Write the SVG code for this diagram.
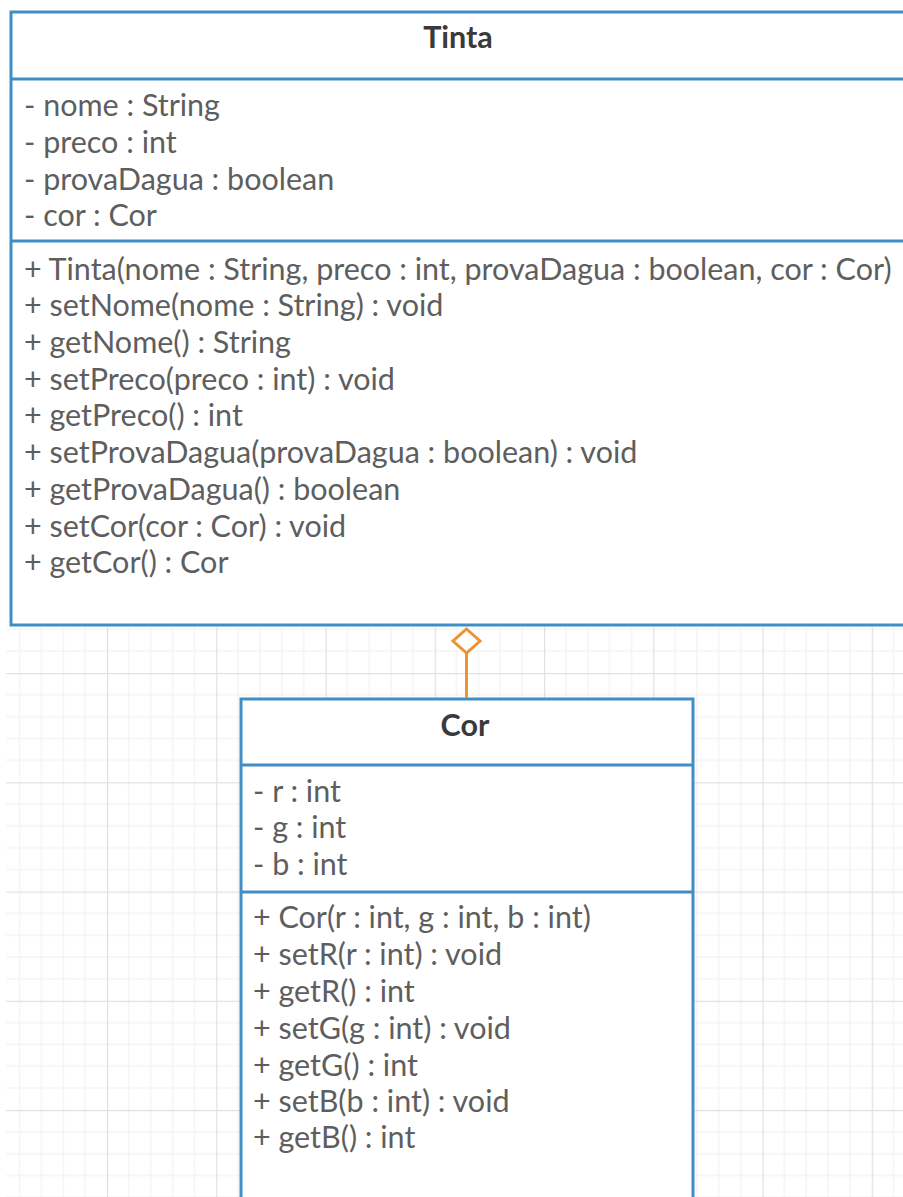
<svg xmlns="http://www.w3.org/2000/svg" width="903" height="1197" viewBox="0 0 903 1197">
  <style>
    .box { fill: #ffffff; stroke: #3f8fc4; stroke-width: 3; }
    .sep { stroke: #3f8fc4; stroke-width: 3; }
    .title { font-family: Lato, "Liberation Sans", sans-serif; font-weight: bold; font-size: 30.5px; fill: #3a3a3a; text-anchor: middle; }
    .member { font-family: Lato, "Liberation Sans", sans-serif; font-size: 30.5px; fill: #5e5e5e; }
    .link { stroke: #ef9230; stroke-width: 3; fill: none; }
    .diamond { stroke: #ef9230; stroke-width: 3; fill: #ffffff; }
  </style>
  <defs>
    <pattern id="grid" patternUnits="userSpaceOnUse" x="-2.25" y="17.5" width="109.25" height="109.25">
      <g fill="#efefef">
        <rect x="21.35" y="0" width="1" height="109.25"/>
        <rect x="43.2" y="0" width="1" height="109.25"/>
        <rect x="65.05" y="0" width="1" height="109.25"/>
        <rect x="86.9" y="0" width="1" height="109.25"/>
        <rect x="0" y="21.35" width="109.25" height="1"/>
        <rect x="0" y="43.2" width="109.25" height="1"/>
        <rect x="0" y="65.05" width="109.25" height="1"/>
        <rect x="0" y="86.9" width="109.25" height="1"/>
      </g>
      <g fill="#e0e0e0">
        <rect x="0" y="0" width="1.2" height="109.25"/>
        <rect x="0" y="0" width="109.25" height="1.2"/>
      </g>
    </pattern>
  </defs>

  <!-- canvas -->
  <rect x="0" y="0" width="903" height="1197" fill="#ffffff"/>
  <rect x="6" y="627" width="897" height="570" fill="url(#grid)"/>

  <!-- class Tinta -->
  <g id="tinta">
    <rect class="box" x="11" y="12" width="900" height="613"/>
    <line class="sep" x1="11" y1="79" x2="911" y2="79"/>
    <line class="sep" x1="11" y1="241" x2="911" y2="241"/>
    <text class="title" x="458" y="48">Tinta</text>
    <text class="member" x="24" y="116">- nome : String</text>
    <text class="member" x="24" y="153">- preco : int</text>
    <text class="member" x="24" y="190">- provaDagua : boolean</text>
    <text class="member" x="24" y="226">- cor : Cor</text>
    <text class="member" x="24" y="280">+ Tinta(nome : String, preco : int, provaDagua : boolean, cor : Cor)</text>
    <text class="member" x="24" y="316">+ setNome(nome : String) : void</text>
    <text class="member" x="24" y="353">+ getNome() : String</text>
    <text class="member" x="24" y="390">+ setPreco(preco : int) : void</text>
    <text class="member" x="24" y="426">+ getPreco() : int</text>
    <text class="member" x="24" y="463">+ setProvaDagua(provaDagua : boolean) : void</text>
    <text class="member" x="24" y="500">+ getProvaDagua() : boolean</text>
    <text class="member" x="24" y="537">+ setCor(cor : Cor) : void</text>
    <text class="member" x="24" y="573">+ getCor() : Cor</text>
  </g>

  <!-- class Cor -->
  <g id="cor">
    <rect class="box" x="241" y="699" width="452" height="520"/>
    <line class="sep" x1="241" y1="765" x2="693" y2="765"/>
    <line class="sep" x1="241" y1="892" x2="693" y2="892"/>
    <text class="title" x="465" y="736">Cor</text>
    <text class="member" x="253" y="802">- r : int</text>
    <text class="member" x="253" y="838">- g : int</text>
    <text class="member" x="253" y="875">- b : int</text>
    <text class="member" x="253" y="928">+ Cor(r : int, g : int, b : int)</text>
    <text class="member" x="253" y="965">+ setR(r : int) : void</text>
    <text class="member" x="253" y="1002">+ getR() : int</text>
    <text class="member" x="253" y="1039">+ setG(g : int) : void</text>
    <text class="member" x="253" y="1076">+ getG() : int</text>
    <text class="member" x="253" y="1112">+ setB(b : int) : void</text>
    <text class="member" x="253" y="1148">+ getB() : int</text>
  </g>

  <!-- aggregation Tinta <>— Cor -->
  <g id="connectors">
    <line class="link" x1="466.5" y1="653" x2="466.5" y2="698"/>
    <path class="diamond" d="M466.5 629 L480 641 L466.5 653 L453 641 Z"/>
  </g>
</svg>
